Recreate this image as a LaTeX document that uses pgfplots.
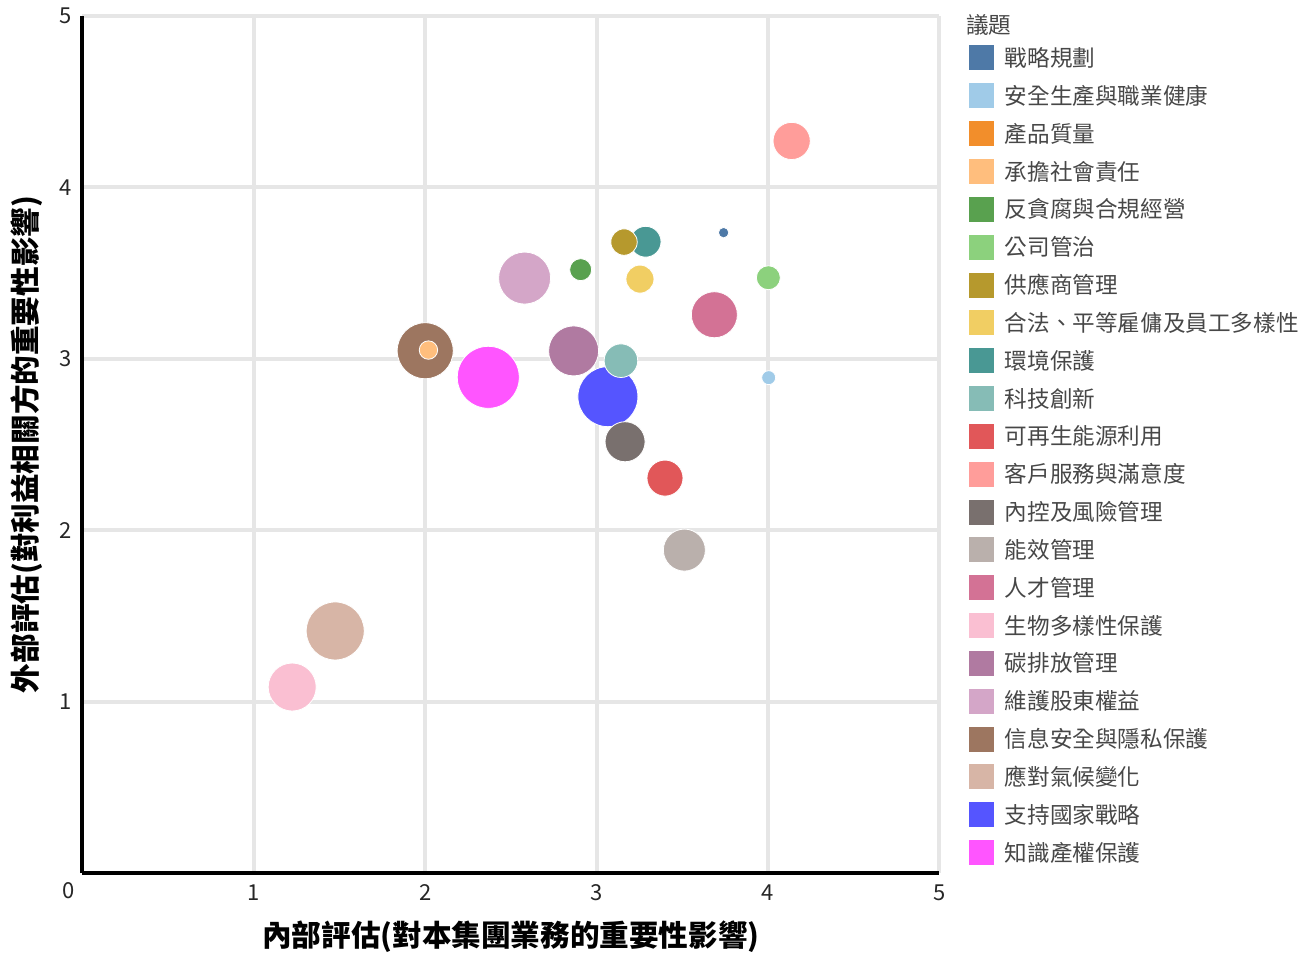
\documentclass[border=0pt]{standalone}
\usepackage{fontspec}
\setmainfont{Noto Sans CJK TC}
\usepackage{pgfplots}
\pgfplotsset{compat=1.18}
\definecolor{c1}{HTML}{4E79A7}
\definecolor{c2}{HTML}{A0CBE8}
\definecolor{c3}{HTML}{F28E2B}
\definecolor{c4}{HTML}{FFBE7D}
\definecolor{c5}{HTML}{59A14F}
\definecolor{c6}{HTML}{8CD17D}
\definecolor{c7}{HTML}{B6992D}
\definecolor{c8}{HTML}{F1CE63}
\definecolor{c9}{HTML}{499894}
\definecolor{c10}{HTML}{86BCB6}
\definecolor{c11}{HTML}{E15759}
\definecolor{c12}{HTML}{FF9D9A}
\definecolor{c13}{HTML}{79706E}
\definecolor{c14}{HTML}{BAB0AC}
\definecolor{c15}{HTML}{D37295}
\definecolor{c16}{HTML}{FABFD2}
\definecolor{c17}{HTML}{B07AA1}
\definecolor{c18}{HTML}{D4A6C8}
\definecolor{c19}{HTML}{9D7660}
\definecolor{c20}{HTML}{D7B5A6}
\definecolor{c21}{HTML}{5555FF}
\definecolor{c22}{HTML}{FF55FF}
\definecolor{gridgray}{HTML}{E6E6E6}
\pgfplotsset{
  bub/.style 2 args={only marks, mark=*, mark size=#2, forget plot,
    mark options={fill=#1, draw=white, line width=0.4pt}},
}
\begin{document}
\begin{tikzpicture}
\useasboundingbox (-41.2pt,-42.5pt) rectangle (611.8pt,436.5pt);
\begin{axis}[
  at={(0,0)}, anchor=south west,
  scale only axis, width=428.5pt, height=428.5pt,
  xmin=0, xmax=5, ymin=0, ymax=5,
  enlargelimits=false,
  axis lines=left,
  axis line style={-, line width=2pt, black},
  every outer x axis line/.append style={-},
  every outer y axis line/.append style={-},
  xtick={1,2,3,4,5}, ytick={1,2,3,4,5},
  major tick length=0pt,
  grid=major,
  major grid style={gridgray, line width=2pt},
  /pgf/number format/assume math mode=true,
  tick label style={font=\fontsize{11}{13}\selectfont, text=black!85},
  xticklabel style={anchor=center, yshift=-10pt},
  yticklabel style={anchor=center, xshift=-8.2pt},
  every axis x label/.style={at={(axis description cs:0.5,-0.0747)}, anchor=center},
  every axis y label/.style={at={(axis description cs:-0.0646,0.5)}, anchor=center, rotate=90},
  xlabel={\fontsize{14.8}{18}\selectfont\bfseries 內部評估(對本集團業務的重要性影響)},
  ylabel={\fontsize{14.8}{18}\selectfont\bfseries 外部評估(對利益相關方的重要性影響)},
  legend style={at={(axis description cs:1.0345,0.9656)}, anchor=north west,
    draw=none, fill=none, inner sep=0pt, outer sep=0pt,
    row sep=6.42pt, column sep=5.5pt,
    nodes={inner sep=0pt, text height=10.5pt, text depth=2pt,
      font=\fontsize{11.3}{13}\selectfont, text=black!72}},
  legend cell align=left,
  legend image code/.code={\fill[#1, draw=none] (0pt,-6.25pt) rectangle (12.5pt,6.25pt);},
  clip=false,
]
% bubbles, largest first so smaller ones lie on top
\addplot[bub={c22}{15.5pt}] coordinates {(2.368,2.892)};
\addplot[bub={c21}{15pt}] coordinates {(3.066,2.779)};
\addplot[bub={c20}{14.5pt}] coordinates {(1.475,1.412)};
\addplot[bub={c19}{14pt}] coordinates {(2.000,3.047)};
\addplot[bub={c18}{13pt}] coordinates {(2.580,3.471)};
\addplot[bub={c17}{12.5pt}] coordinates {(2.866,3.046)};
\addplot[bub={c16}{12pt}] coordinates {(1.224,1.085)};
\addplot[bub={c15}{11.5pt}] coordinates {(3.687,3.257)};
\addplot[bub={c14}{10.5pt}] coordinates {(3.512,1.884)};
\addplot[bub={c13}{10pt}] coordinates {(3.166,2.516)};
\addplot[bub={c12}{9.3pt}] coordinates {(4.138,4.271)};
\addplot[bub={c11}{9pt}] coordinates {(3.399,2.304)};
\addplot[bub={c10}{8.4pt}] coordinates {(3.142,2.989)};
\addplot[bub={c9}{7.7pt}] coordinates {(3.286,3.683)};
\addplot[bub={c8}{7pt}] coordinates {(3.253,3.465)};
\addplot[bub={c7}{6.6pt}] coordinates {(3.160,3.681)};
\addplot[bub={c6}{6pt}] coordinates {(4.002,3.473)};
\addplot[bub={c5}{5.5pt}] coordinates {(2.907,3.520)};
\addplot[bub={c4}{4.6pt}] coordinates {(2.019,3.051)};
\addplot[bub={c2}{3.5pt}] coordinates {(4.004,2.890)};
\addplot[bub={c1}{2.6pt}] coordinates {(3.741,3.736)};
% legend
\addlegendimage{fill=c1}\addlegendentry{戰略規劃}
\addlegendimage{fill=c2}\addlegendentry{安全生產與職業健康}
\addlegendimage{fill=c3}\addlegendentry{產品質量}
\addlegendimage{fill=c4}\addlegendentry{承擔社會責任}
\addlegendimage{fill=c5}\addlegendentry{反貪腐與合規經營}
\addlegendimage{fill=c6}\addlegendentry{公司管治}
\addlegendimage{fill=c7}\addlegendentry{供應商管理}
\addlegendimage{fill=c8}\addlegendentry{合法、平等雇傭及員工多樣性}
\addlegendimage{fill=c9}\addlegendentry{環境保護}
\addlegendimage{fill=c10}\addlegendentry{科技創新}
\addlegendimage{fill=c11}\addlegendentry{可再生能源利用}
\addlegendimage{fill=c12}\addlegendentry{客戶服務與滿意度}
\addlegendimage{fill=c13}\addlegendentry{內控及風險管理}
\addlegendimage{fill=c14}\addlegendentry{能效管理}
\addlegendimage{fill=c15}\addlegendentry{人才管理}
\addlegendimage{fill=c16}\addlegendentry{生物多樣性保護}
\addlegendimage{fill=c17}\addlegendentry{碳排放管理}
\addlegendimage{fill=c18}\addlegendentry{維護股東權益}
\addlegendimage{fill=c19}\addlegendentry{信息安全與隱私保護}
\addlegendimage{fill=c20}\addlegendentry{應對氣候變化}
\addlegendimage{fill=c21}\addlegendentry{支持國家戰略}
\addlegendimage{fill=c22}\addlegendentry{知識產權保護}
\node[anchor=west, inner sep=0pt, font=\fontsize{11.3}{13}\selectfont, text=black!72]
  at (axis description cs:1.031,0.9895) {議題};
\node[anchor=center, inner sep=0pt, font=\fontsize{11}{13}\selectfont, text=black!85]
  at (axis cs:0,0) [xshift=-7pt, yshift=-9pt] {0};
\end{axis}
\end{tikzpicture}
\end{document}
